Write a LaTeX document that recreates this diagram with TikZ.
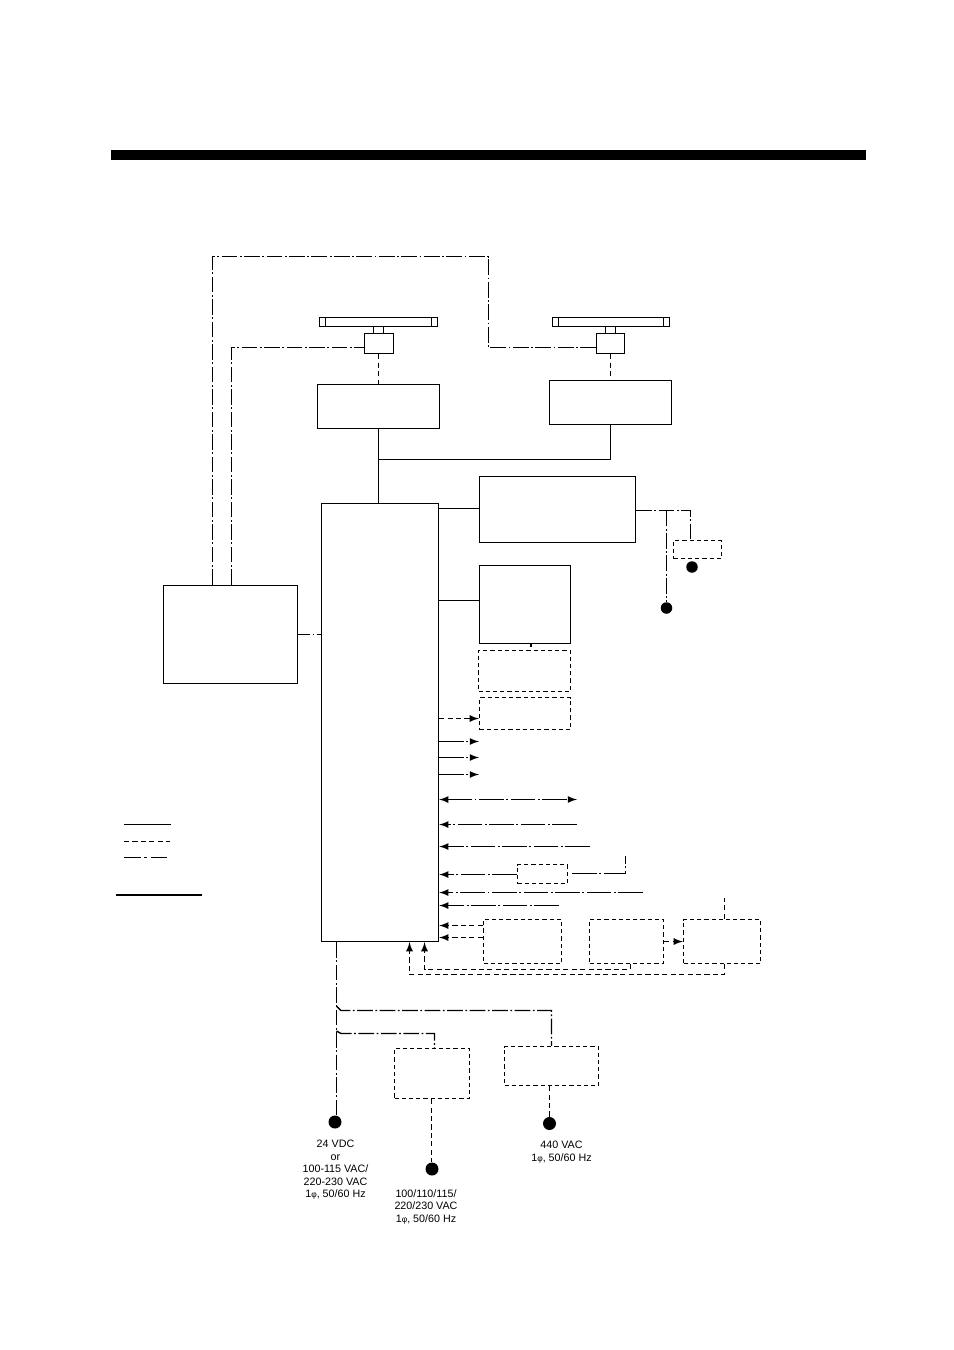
\documentclass[tikz,border=0pt]{standalone}
\usepackage{fontspec}
\setmainfont{Liberation Sans}
\usetikzlibrary{positioning,calc}
\newcommand{\onephase}{1{\fontsize{4.8pt}{5pt}\selectfont φ}}
\tikzset{
    box/.style={draw, line width=0.8pt, inner sep=0pt},
    dbox/.style={box, dash pattern=on 2.4pt off 1.7pt, line width=0.75pt},
    lin/.style={line width=0.8pt},
    dashln/.style={line width=0.8pt, dash pattern=on 2.9pt off 1.9pt},
    dotln/.style={line width=0.8pt, dash pattern=on 9pt off 1.4pt on 1pt off 1.4pt},
    longdot/.style={line width=0.8pt, dash pattern=on 14pt off 1.5pt on 1pt off 1.5pt},
    blob/.style={circle, fill=black, inner sep=0pt, minimum size=0.23cm},
    lab/.style={font=\fontsize{6.1pt}{7.2pt}\selectfont, align=center, inner sep=0pt, anchor=north},
}
\begin{document}
\begin{tikzpicture}[x=0.02cm, y=-0.02cm, >=latex]
    \useasboundingbox (0,0) rectangle (954,1350);

    % Heading bar
    \node[fill=black, inner sep=0pt, minimum width=15.1cm, minimum height=0.2cm] (bar) at (488.5,155) {};

    % Scanner 1
    \node[box, minimum width=2.36cm, minimum height=0.18cm] (ant1) at (378.5,322) {};
    \node[box, minimum width=0.2cm, minimum height=0.14cm] (neck1) at (378.5,330) {};
    \node[box, fill=white, minimum width=0.58cm, minimum height=0.4cm] (mot1) at (379,343.5) {};
    \node[box, minimum width=2.44cm, minimum height=0.88cm] (rf1) at (378.5,406.5) {};
    \draw[lin] (ant1.north west) ++(6.7,0) -- ++(0,10);
    \draw[lin] (ant1.north east) ++(-6.7,0) -- ++(0,10);

    % Scanner 2
    \node[box, minimum width=2.34cm, minimum height=0.18cm] (ant2) at (611,322) {};
    \node[box, minimum width=0.2cm, minimum height=0.14cm] (neck2) at (610.5,330) {};
    \node[box, fill=white, minimum width=0.56cm, minimum height=0.4cm] (mot2) at (610.5,343.5) {};
    \node[box, minimum width=2.44cm, minimum height=0.88cm] (rf2) at (610.5,402.5) {};
    \draw[lin] (ant2.north west) ++(6.7,0) -- ++(0,10);
    \draw[lin] (ant2.north east) ++(-6.7,0) -- ++(0,10);

    % Main unit and left unit
    \node[box, minimum width=2.34cm, minimum height=8.76cm] (main) at (380,722.5) {};
    \node[box, minimum width=2.68cm, minimum height=1.96cm] (left) at (230.5,634.5) {};

    % Units on the right of the main unit
    \node[box, minimum width=3.12cm, minimum height=1.32cm] (wide) at (557.5,509.5) {};
    \node[box, minimum width=1.82cm, minimum height=1.56cm] (disp) at (525,604.5) {};
    \node[dbox, minimum width=1.84cm, minimum height=0.82cm] (opt1) at (524.5,671) {};
    \node[dbox, minimum width=1.82cm, minimum height=0.64cm] (opt2) at (525,713.5) {};
    \node[dbox, minimum width=0.96cm, minimum height=0.36cm] (opt3) at (697.5,549.5) {};
    \node[dbox, minimum width=1.0cm, minimum height=0.38cm] (opt4) at (542.5,874) {};
    \node[dbox, minimum width=1.56cm, minimum height=0.88cm] (opt5) at (522.5,941.5) {};
    \node[dbox, minimum width=1.48cm, minimum height=0.88cm] (opt6) at (626.5,941.5) {};
    \node[dbox, minimum width=1.54cm, minimum height=0.88cm] (opt7) at (722,941.5) {};

    % Power units
    \node[dbox, minimum width=1.5cm, minimum height=1.0cm] (rect1) at (432,1073.5) {};
    \node[dbox, minimum width=1.88cm, minimum height=0.78cm] (rect2) at (551.5,1066) {};

    % Terminals
    \node[blob] (dotA) at (666.5,608) {};
    \node[blob] (dotB) at (692,567) {};
    \node[blob, minimum size=0.26cm] (dotC) at (335,1122) {};
    \node[blob, minimum size=0.26cm] (dotD) at (432,1169) {};
    \node[blob, minimum size=0.26cm] (dotE) at (549.5,1123.5) {};

    % Supply labels
    \node[lab] (supC) at (335.5,1139.5) {24 VDC\\or\\100-115 VAC/\\220-230 VAC\\\onephase, 50/60 Hz};
    \node[lab] (supD) at (426,1189) {100/110/115/\\220/230 VAC\\\onephase, 50/60 Hz};
    \node[lab] (supE) at (561.5,1140.5) {440 VAC\\\onephase, 50/60 Hz};

    % Free ends and corners
    \coordinate (upL) at (212.5,256.5);
    \coordinate (upR) at (488.5,256.5);
    \coordinate (inL) at (231.5,347.5);
    \coordinate (inR) at (488.5,347.5);
    \coordinate (tapW) at (666.5,510.5);
    \coordinate (tapE) at (690.5,510.5);
    \coordinate (tie) at (378.5,459.5);
    \coordinate (out1) at (479,741.5);
    \coordinate (out2) at (479,757.5);
    \coordinate (out3) at (479,774.5);
    \coordinate (io1) at (577,799.5);
    \coordinate (in1) at (577,824.5);
    \coordinate (in2) at (590,846.5);
    \coordinate (in3) at (625.5,855.5);
    \coordinate (in3b) at (572,873.5);
    \coordinate (in4) at (643,892.5);
    \coordinate (in5) at (559,905.5);
    \coordinate (in6) at (724.5,897.5);
    \coordinate (backA) at (409.5,974.5);
    \coordinate (backB) at (424.5,969.5);
    \coordinate (tapS) at (336.5,1006);
    \coordinate (tapT) at (336.5,1031);
    \coordinate (tapU) at (341,1010.5);
    \coordinate (tapV) at (341,1033.5);

    % Connectors, solid
    \draw[lin] (neck1.south) -- (neck1.south |- mot1.north);
    \draw[lin] (neck2.south) -- (mot2.north);
    \draw[lin] (rf1.south) -- (tie) -- (rf1.south |- main.north);
    \draw[lin] (tie) -| (rf2.south);
    \draw[lin] (main.east |- 0,508.5) -- (wide.west |- 0,508.5);
    \draw[lin] (main.east |- 0,600.5) -- (disp.west |- 0,600.5);
    \draw[line width=1pt] (disp.south -| 531,0) -- (531,647);

    % Connectors, dash-dot
    \draw[dotln] (left.north -| upL) -- (upL) -- (upR) -- (inR) -- (mot2.west |- inR);
    \draw[dotln] (left.north -| inL) -- (inL) -- (mot1.west |- inL);
    \draw[dotln, dash phase=2.2pt] (left.east) -- (main.west |- left.east);
    \draw[dotln] (wide.east |- tapW) -- (tapE) -- (opt3.north -| tapE);
    \draw[dotln] (tapW) -- (dotA.north);
    \draw[longdot, ->] (main.east |- out1) -- (out1);
    \draw[longdot, ->] (main.east |- out2) -- (out2);
    \draw[longdot, ->] (main.east |- out3) -- (out3);
    \draw[longdot, <->] (main.east |- io1) -- (io1);
    \draw[longdot, ->] (in1) -- (main.east |- in1);
    \draw[longdot, ->] (in2) -- (main.east |- in2);
    \draw[longdot, ->] (opt4.west |- 0,874.5) -- (main.east |- 0,874.5);
    \draw[longdot] (in3b) -| (in3);
    \draw[longdot, ->] (in4) -- (main.east |- in4);
    \draw[longdot, ->] (in5) -- (main.east |- in5);
    \draw[dotln] (main.south -| tapS) -- (tapS |- dotC.north);
    \draw[dotln] (tapS) -- (tapU) -| (rect2.north);
    \draw[dotln] (tapT) -- (tapV) -| (rect1.north -| 434.5,0);

    % Connectors, dashed
    \draw[dashln] (rf1.north |- mot1.south) -- (rf1.north);
    \draw[dashln] (mot2.south) -- (rf2.north);
    \draw[dashln, ->] (main.east |- 0,718.5) -- (opt2.west |- 0,718.5);
    \draw[dashln, ->] (opt5.west |- 0,925.5) -- (main.east |- 0,925.5);
    \draw[dashln, ->] (opt5.west |- 0,937.5) -- (main.east |- 0,937.5);
    \draw[dashln, ->] (opt6.east) -- (opt7.west);
    \draw[dashln] (opt7.north -| in6) -- (in6);
    \draw[dashln, ->] (opt7.south -| in6) |- (backA) -- (main.south -| backA);
    \draw[dashln, ->] (opt6.south -| 630.5,0) |- (backB) -- (main.south -| backB);
    \draw[dashln] (rect1.south -| 431.5,0) -- (dotD.north -| 431.5,0);
    \draw[dashln] (rect2.south -| dotE) -- (dotE.north);

    % Legend
    \coordinate (keyA) at (124,824.5);
    \coordinate (keyB) at (171,824.5);
    \coordinate (keyC) at (124,841.5);
    \coordinate (keyD) at (170,841.5);
    \coordinate (keyE) at (124,857.5);
    \coordinate (keyF) at (169,857.5);
    \coordinate (keyG) at (116,895);
    \coordinate (keyH) at (202,895);
    \draw[lin] (keyA) -- (keyB);
    \draw[dashln] (keyC) -- (keyD);
    \draw[lin, dash pattern=on 9.6pt off 2pt on 1.5pt off 2pt] (keyE) -- (keyF);
    \draw[line width=1.1pt] (keyG) -- (keyH);
\end{tikzpicture}
\end{document}
